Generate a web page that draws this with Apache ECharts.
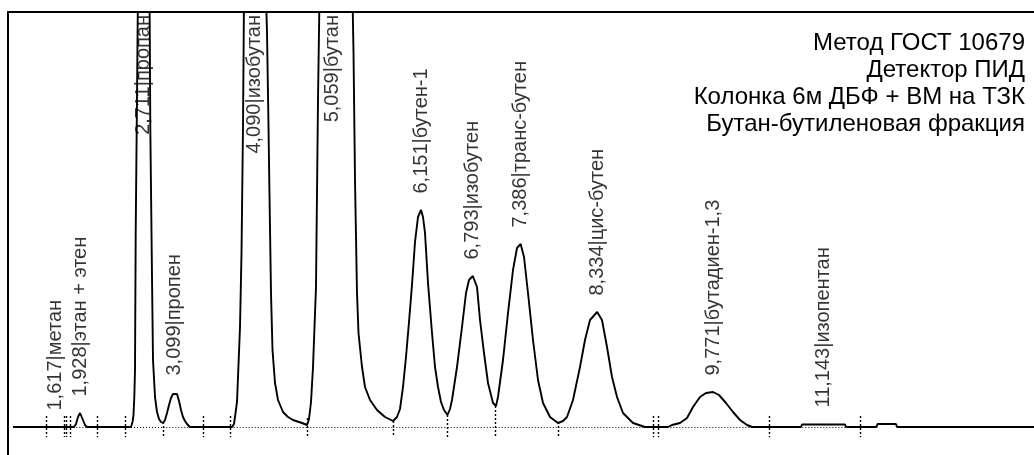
<!DOCTYPE html>
<html>
<head>
<meta charset="utf-8">
<script src="https://cdn.jsdelivr.net/npm/echarts@6/dist/echarts.min.js"></script>
<style>
html,body{margin:0;padding:0;background:#fff;}
#chart{width:1034px;height:455px;}
</style>
</head>
<body>
<div id="chart"></div>
<script>
// Retention times (min), component names and peak heights (signal units)
const peakTimes = [1.617, 1.928, 2.711, 3.099, 4.090, 5.059, 6.151, 6.793, 7.386, 8.334, 9.771, 11.143];
const peakNames = ['метан', 'этан + этен', 'пропан', 'пропен', 'изобутан', 'бутан', 'бутен-1', 'изобутен', 'транс-бутен', 'цис-бутен', 'бутадиен-1,3', 'изопентан'];
const peakHeights = [0, 14, 900, 35, 1300, 1150, 217, 151, 183, 115, 35, 3];

// Integration baselines (peak start / end, min)
const baseStarts = [1.501, 1.803, 2.481, 2.956, 3.791, 4.741, 5.807, 6.482, 7.077, 7.853, 9.093, 10.469];
const baseEnds   = [1.728, 2.142, 2.956, 3.457, 4.741, 5.807, 6.482, 7.077, 7.853, 9.031, 10.469, 11.593];

// Peak boundary markers (min) and the signal level where each marker starts
const tickTimes = [1.501, 1.728, 1.758, 1.803, 2.142, 2.481, 2.956, 3.457, 3.791, 4.741, 5.807, 6.482, 7.077, 7.853, 9.031, 9.093, 10.469, 11.593];
const tickTops  = [11, 11, 11, 11, 11, 11, 5, 11, 11, 9, 6, 12, 21, 5, 11, 11, 11, 11];

// Detector trace: [time (min), signal]
const trace = [
  [1.0922,0],[1.8485,0],[1.8733,3],[1.8981,10],[1.9229,14],[1.9415,13],[1.9601,7],[1.9849,2],[2.0097,0],
  [2.5552,0],[2.5738,5],[2.5862,12],[2.5961,30],[2.6048,57],[2.6134,194],[2.6296,330],[2.6420,440],[2.7114,900],
  [2.7845,440],[2.7944,300],[2.8155,150],[2.8279,67],[2.8527,30],[2.8775,15],[2.9023,8],[2.9271,5],[2.9519,4],
  [2.9767,7],[3.0015,14],[3.0263,22],[3.0511,29],[3.0759,33],[3.0990,35],[3.1255,33],[3.1503,26],[3.1751,17],
  [3.1998,10],[3.2246,6],[3.2494,3],[3.2866,0],
  [3.8073,0],[3.8321,3],[3.8445,10],[3.8693,25],[3.8817,50],[3.9065,100],[3.9251,174],[3.9437,300],[3.9561,430],
  [4.0900,1300],[4.2289,430],[4.2413,395],[4.2599,300],[4.2722,232],[4.2908,134],[4.3094,77],[4.3404,44],
  [4.3776,27],[4.4396,15],[4.5016,10],[4.5636,7],[4.6752,4],[4.7372,2],
  [4.7620,8],[4.7868,25],[4.8116,60],[4.8487,140],[4.8735,327],[4.8921,430],[5.0590,1150],
  [5.3013,430],[5.3137,375],[5.3323,247],[5.3570,134],[5.3756,94],[5.4190,60],[5.4562,40],[5.5182,27],
  [5.6050,17],[5.7042,10],[5.8034,6],
  [5.8530,10],[5.8902,18],[5.9273,40],[5.9645,70],[6.0017,105],[6.0389,142],[6.0761,185],[6.1133,210],
  [6.1510,217],[6.1753,210],[6.2001,194],[6.2373,144],[6.2869,94],[6.3241,60],[6.3613,40],[6.3985,25],
  [6.4357,17],[6.4790,12],
  [6.5100,18],[6.5348,27],[6.5968,60],[6.6588,100],[6.7084,134],[6.7456,147],[6.7930,151],[6.8448,140],
  [6.8820,107],[6.9316,74],[6.9812,44],[7.0431,24],[7.0803,21],
  [7.1051,30],[7.1671,67],[7.2291,114],[7.2911,157],[7.3407,179],[7.3860,183],[7.4275,170],[7.4771,134],
  [7.5390,87],[7.6010,47],[7.6630,24],[7.7498,10],[7.8490,4],
  [7.9110,6],[7.9606,10],[8.0350,27],[8.1217,60],[8.1837,87],[8.2457,107],[8.3340,115],[8.3945,107],
  [8.4565,80],[8.5185,50],[8.5805,30],[8.6548,14],[8.7788,4],[8.9276,0],
  [9.2127,0],[9.2623,2],[9.3615,4],[9.4483,9],[9.5227,20],[9.6095,30],[9.6839,34],[9.7710,35],[9.8450,32],
  [9.9318,24],[10.0186,15],[10.1054,7],[10.1922,2],[10.2541,0],
  [10.8616,0],[10.8740,2.5],[11.4071,2.5],[11.4195,0],
  [11.7977,0],[11.8100,3],[12.0394,3],[12.0518,0],[13.8247,0]
];

const infoLines = ['Метод ГОСТ 10679', 'Детектор ПИД', 'Колонка 6м ДБФ + ВМ на ТЗК', 'Бутан-бутиленовая фракция'];

const xMin = 1.0302, xMax = 13.7503;
const yMin = -28, yMax = 415;

const chart = echarts.init(document.getElementById('chart'), null, {renderer: 'canvas'});

const labelFont = 'Liberation Sans, Arial, sans-serif';

const labelData = peakTimes.map((t, i) => {
  const off = peakHeights[i] > yMax;
  const txt = t.toFixed(3).replace('.', ',') + '|' + peakNames[i];
  return {
    value: [t, off ? yMax - 3 : peakHeights[i]],
    label: {
      show: true,
      formatter: txt,
      rotate: 90,
      position: off ? 'inside' : 'top',
      distance: 16,
      align: off ? 'right' : 'left',
      verticalAlign: 'middle',
      color: '#000',
      fontSize: 20,
      fontFamily: labelFont
    }
  };
});

const baseLines = baseStarts.map((s, i) => ({coords: [[s, 0], [baseEnds[i], 0]]}));
const tickLines = tickTimes.map((t, i) => ({coords: [[t, tickTops[i]], [t, -10]]}));

chart.setOption({
  animation: false,
  backgroundColor: '#fff',
  grid: {left: 8, right: 0, top: 12, bottom: 0, show: false},
  xAxis: {type: 'value', min: xMin, max: xMax, show: false},
  yAxis: {type: 'value', min: yMin, max: yMax, show: false},
  graphic: [
    {type: 'rect', z: 100, silent: true,
     shape: {x: 8, y: 12, width: 1200, height: 1000},
     style: {fill: 'none', stroke: '#000', lineWidth: 2}},
    {type: 'text', z: 100, silent: true, x: 1025, y: 30,
     style: {text: infoLines.join('\n'), align: 'right', verticalAlign: 'top',
             font: '24px Liberation Sans, Arial, sans-serif', lineHeight: 27, fill: '#000'}}
  ],
  series: [
    {type: 'lines', coordinateSystem: 'cartesian2d', polyline: false, silent: true, z: 1,
     lineStyle: {color: '#000', width: 1.2, type: [1, 2], opacity: 1},
     data: baseLines},
    {type: 'lines', coordinateSystem: 'cartesian2d', polyline: false, silent: true, z: 3,
     lineStyle: {color: '#000', width: 1.4, type: [2, 2], opacity: 1},
     data: tickLines},
    {type: 'line', data: trace, showSymbol: false, symbol: 'none', z: 2, silent: true,
     lineStyle: {color: '#000', width: 1.9}, clip: true},
    {type: 'scatter', data: labelData, symbolSize: 1, itemStyle: {color: 'rgba(0,0,0,0)'}, z: 4, silent: true, clip: false}
  ]
});
</script>
</body>
</html>
